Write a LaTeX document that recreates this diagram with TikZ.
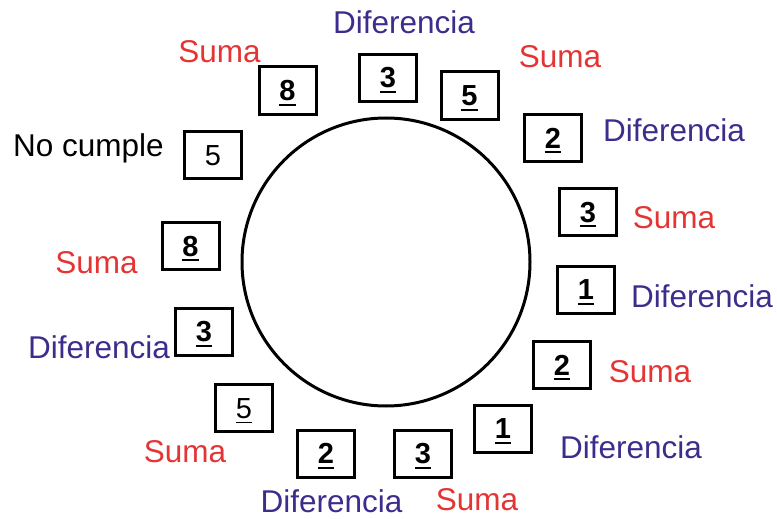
\documentclass[tikz,border=0pt]{standalone}
\usepackage{fontspec}
\setmainfont{Liberation Sans}
\definecolor{sumared}{RGB}{228,52,52}
\definecolor{difpurple}{RGB}{62,44,140}
% digit with a rule underneath
\newcommand\ulnum[2]{\setbox0\hbox{#1}\rlap{\copy0}\rule[-5pt]{\wd0}{#2}}
\begin{document}
\begin{tikzpicture}[x=1pt,y=-1pt,
  numbox/.style={draw,line width=3pt,minimum width=57pt,minimum height=47pt,
    inner sep=0pt,text height=20pt,text depth=0pt,font=\fontsize{29}{34}\selectfont},
  lbl/.style={anchor=base,inner sep=0pt,font=\fontsize{31.5}{36}\selectfont},
  suma/.style={lbl,text=sumared},
  dif/.style={lbl,text=difpurple},
  nc/.style={lbl,text=black}]
\useasboundingbox (0,0) rectangle (777,519);
\node[draw,line width=3pt,circle,minimum size=288pt,inner sep=0pt] (ring) at (386,262) {};
% numbered boxes around the ring
\node[numbox] (b1)  at (287.5,90.5) {\bfseries\ulnum{8}{1.8pt}};
\node[numbox] (b2)  at (388,78)     {\bfseries\ulnum{3}{1.8pt}};
\node[numbox] (b3)  at (469.5,95.5) {\bfseries\ulnum{5}{1.8pt}};
\node[numbox] (b4)  at (553,138)    {\bfseries\ulnum{2}{1.8pt}};
\node[numbox] (b5)  at (588,212)    {\bfseries\ulnum{3}{1.8pt}};
\node[numbox] (b6)  at (586,289.5)  {\bfseries\ulnum{1}{1.8pt}};
\node[numbox] (b7)  at (562,365)    {\bfseries\ulnum{2}{1.8pt}};
\node[numbox] (b8)  at (503,428.5)  {\bfseries\ulnum{1}{1.8pt}};
\node[numbox] (b9)  at (423,453.5)  {\bfseries\ulnum{3}{1.8pt}};
\node[numbox] (b10) at (326,453.5)  {\bfseries\ulnum{2}{1.8pt}};
\node[numbox] (b11) at (244,408)    {\ulnum{5}{1.1pt}};
\node[numbox] (b12) at (204,331.5)  {\bfseries\ulnum{3}{1.8pt}};
\node[numbox] (b13) at (190.5,246)  {\bfseries\ulnum{8}{1.8pt}};
\node[numbox] (b14) at (213,155)    {\ulnum{5}{0pt}};
% labels
\node[suma] (l1)  at (219.5,63) {Suma};
\node[dif]  (l2)  at (404,34)   {Diferencia};
\node[suma] (l3)  at (560,68)   {Suma};
\node[dif]  (l4)  at (674,142)  {Diferencia};
\node[suma] (l5)  at (674,228)  {Suma};
\node[dif]  (l6)  at (702,307)  {Diferencia};
\node[suma] (l7)  at (650,382)  {Suma};
\node[dif]  (l8)  at (631,458)  {Diferencia};
\node[suma] (l9)  at (477,510)  {Suma};
\node[dif]  (l10) at (331.5,512) {Diferencia};
\node[suma] (l11) at (185,462)  {Suma};
\node[dif]  (l12) at (99,358)   {Diferencia};
\node[suma] (l13) at (96.5,273) {Suma};
\node[nc]   (l14) at (88.5,157) {No cumple};
\end{tikzpicture}
\end{document}
